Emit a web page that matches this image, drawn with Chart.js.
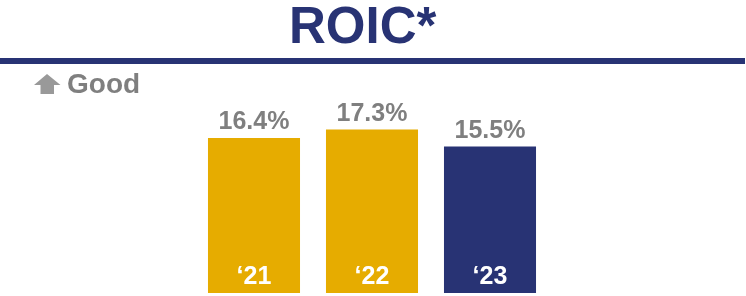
<!DOCTYPE html>
<html>
<head>
<meta charset="utf-8">
<script src="https://cdn.jsdelivr.net/npm/chart.js@4/dist/chart.umd.min.js"></script>
<style>
html,body{margin:0;padding:0;background:#fff;}
#wrap{width:746px;height:296px;position:relative;}
</style>
</head>
<body>
<div id="wrap"><canvas id="c" width="746" height="296"></canvas></div>
<script>
const categories = ["\u201821", "\u201822", "\u201823"];
const roicValues = [16.4, 17.3, 15.5];
const valueLabels = ["16.4%", "17.3%", "15.5%"];
const chartTitle = "ROIC*";
const noteText = "Good";

const GOLD = "#E6AC00";
const NAVY = "#283374";
const GRAY = "#7F7F7F";
const FONT = "'Liberation Sans', Arial, sans-serif";

const decor = {
  id: "decor",
  afterDraw(chart) {
    const ctx = chart.ctx;
    ctx.save();
    // Title
    ctx.fillStyle = NAVY;
    ctx.font = "bold 51px " + FONT;
    ctx.textAlign = "left";
    ctx.textBaseline = "alphabetic";
    ctx.fillText(chartTitle, 289, 43);
    // Rule
    ctx.fillStyle = NAVY;
    ctx.fillRect(0, 58, 745, 6);
    // Arrow
    ctx.fillStyle = "#999999";
    ctx.beginPath();
    ctx.moveTo(47, 74);
    ctx.lineTo(60.5, 85);
    ctx.lineTo(54, 85);
    ctx.lineTo(54, 94);
    ctx.lineTo(40.5, 94);
    ctx.lineTo(40.5, 85);
    ctx.lineTo(34, 85);
    ctx.closePath();
    ctx.fill();
    // Good
    ctx.fillStyle = GRAY;
    ctx.font = "bold 28px " + FONT;
    ctx.fillText(noteText, 67, 93);
    // Bar labels
    const meta = chart.getDatasetMeta(0);
    meta.data.forEach((bar, i) => {
      ctx.textAlign = "center";
      ctx.fillStyle = GRAY;
      ctx.font = "bold 25px " + FONT;
      ctx.fillText(valueLabels[i], bar.x, bar.y - 9);
      ctx.fillStyle = "#FFFFFF";
      ctx.fillText(categories[i], bar.x, bar.base - 9);
    });
    ctx.restore();
  }
};

new Chart(document.getElementById("c"), {
  type: "bar",
  data: {
    labels: categories,
    datasets: [{
      data: roicValues,
      backgroundColor: [GOLD, GOLD, NAVY],
      borderWidth: 0,
      categoryPercentage: 1,
      barPercentage: 0.78
    }]
  },
  options: {
    responsive: false,
    animation: false,
    devicePixelRatio: 1,
    layout: { padding: { left: 195, right: 197, top: 104, bottom: 3 } },
    plugins: { legend: { display: false }, tooltip: { enabled: false }, title: { display: false } },
    scales: {
      x: { display: false },
      y: { display: false, min: 0, max: 20 }
    }
  },
  plugins: [decor]
});
</script>
</body>
</html>
